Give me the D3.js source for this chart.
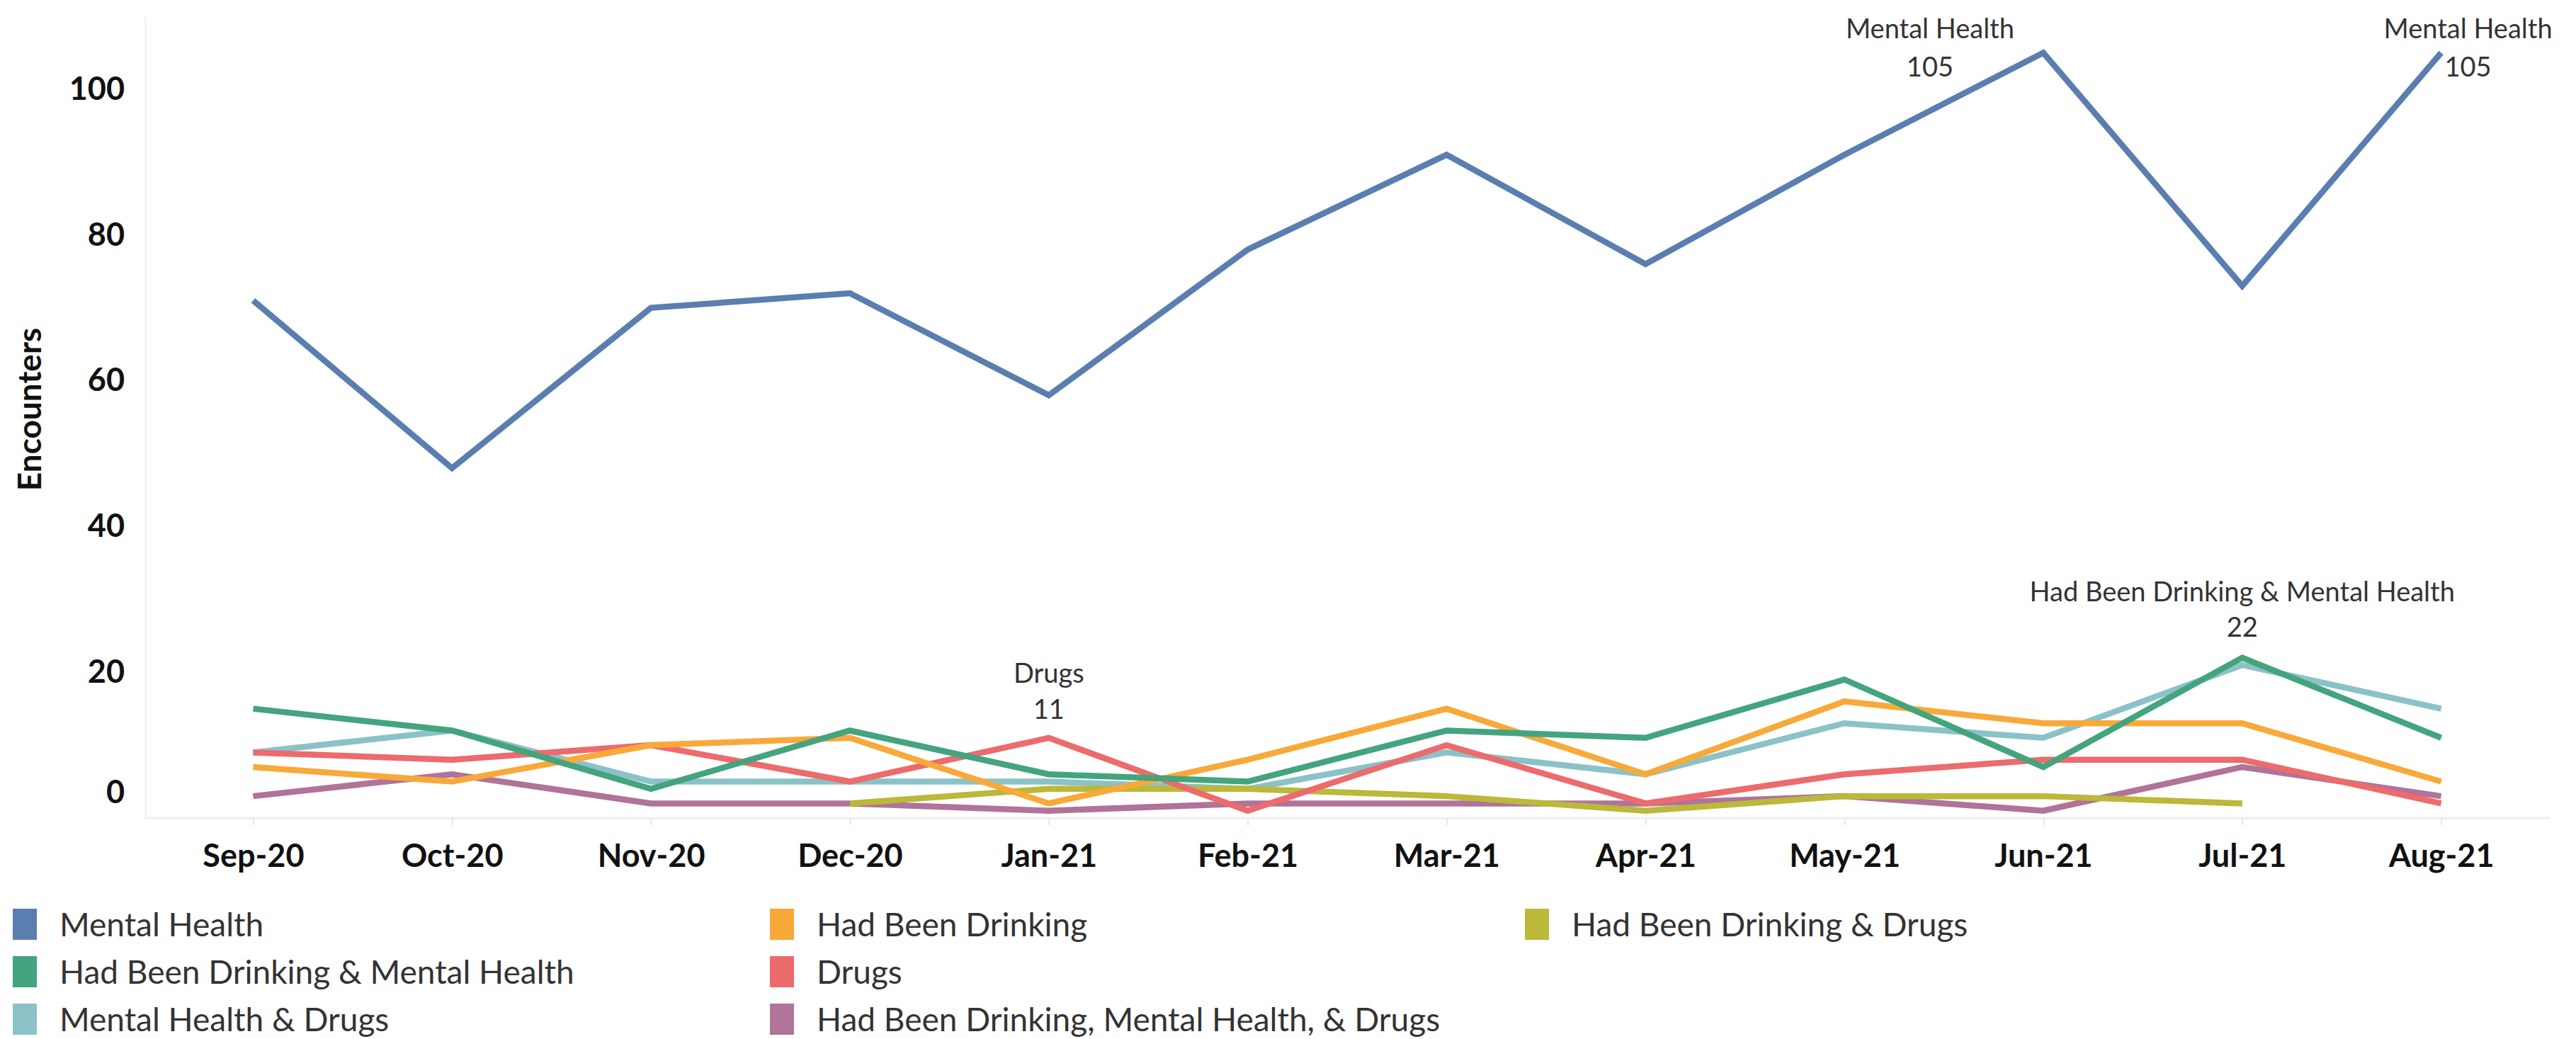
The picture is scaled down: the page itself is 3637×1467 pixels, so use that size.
<!DOCTYPE html>
<html>
<head>
<meta charset="utf-8">
<script src="https://cdn.jsdelivr.net/npm/d3@7"></script>
<style>
  body { margin: 0; background: #ffffff; }
  svg { display: block; font-family: Lato, "Open Sans", sans-serif; }
</style>
</head>
<body>
<div id="chart"></div>
<script>
// ---- data ----
var months = ["Sep-20", "Oct-20", "Nov-20", "Dec-20", "Jan-21", "Feb-21",
              "Mar-21", "Apr-21", "May-21", "Jun-21", "Jul-21", "Aug-21"];

var mentalHealth              = [71, 48, 70, 72, 58, 78, 91, 76, 91, 105, 73, 105];
var hadBeenDrinking           = [7, 5, 10, 11, 2, 8, 15, 6, 16, 13, 13, 5];
var drinkingAndDrugs          = [null, null, null, 2, 4, 4, 3, 1, 3, 3, 2, null];
var drinkingAndMentalHealth   = [15, 12, 4, 12, 6, 5, 12, 11, 19, 7, 22, 11];
var drugs                     = [9, 8, 10, 5, 11, 1, 10, 2, 6, 8, 8, 2];
var mentalHealthAndDrugs      = [9, 12, 5, 5, 5, 4, 9, 6, 13, 11, 21, 15];
var drinkingMentalHealthDrugs = [3, 6, 2, 2, 1, 2, 2, 2, 3, 1, 7, 3];

var yTicks = [0, 20, 40, 60, 80, 100];

// legend order (filled column by column, 3 rows)
var seriesNames = ["Mental Health", "Had Been Drinking & Mental Health", "Mental Health & Drugs",
                   "Had Been Drinking", "Drugs", "Had Been Drinking, Mental Health, & Drugs",
                   "Had Been Drinking & Drugs"];
var seriesValues = [mentalHealth, drinkingAndMentalHealth, mentalHealthAndDrugs,
                    hadBeenDrinking, drugs, drinkingMentalHealthDrugs, drinkingAndDrugs];

var lineColors = {
  "Mental Health": "#5a7eb0",
  "Had Been Drinking": "#f8a93a",
  "Had Been Drinking & Drugs": "#bbb83a",
  "Had Been Drinking & Mental Health": "#44a47d",
  "Drugs": "#ec6b6c",
  "Mental Health & Drugs": "#8bc2c8",
  "Had Been Drinking, Mental Health, & Drugs": "#b07399"
};

// bottom to top
var drawOrder = ["Had Been Drinking, Mental Health, & Drugs", "Mental Health & Drugs",
                 "Had Been Drinking & Drugs", "Drugs", "Had Been Drinking",
                 "Had Been Drinking & Mental Health", "Mental Health"];

var width = 3637;
var height = 1467;
var plot = { left: 205, right: 3600, top: 23, bottom: 1155 };

////////////////////////////////////////////////////////////////////////////////
/*                        HELPER FUNCTIONS                   */
////////////////////////////////////////////////////////////////////////////////

function seriesIndex(name) {
  return seriesNames.indexOf(name);
}

// two line mark label (series name + value) like the tableau annotations
function annotate(g, x, y, name, monthIdx, dx, nameDy, valueDy) {
  var v = seriesValues[seriesIndex(name)][monthIdx];
  var cx = x(months[monthIdx]) + dx;
  var cy = y(v);
  g.append("text")
    .attr("x", cx).attr("y", cy + nameDy)
    .attr("text-anchor", "middle")
    .attr("font-size", 38)
    .attr("fill", "#333")
    .text(name);
  g.append("text")
    .attr("x", cx).attr("y", cy + valueDy)
    .attr("text-anchor", "middle")
    .attr("font-size", 38)
    .attr("fill", "#333")
    .text(v);
}

function drawLegend(svg) {
  var colX = [18, 1087, 2153];
  var rowY = [1305, 1372, 1439];

  var items = svg.append("g").attr("class", "legend")
    .selectAll("g")
    .data(seriesNames)
    .enter()
    .append("g")
    .attr("transform", function (d, i) {
      return "translate(" + colX[Math.floor(i / 3)] + "," + rowY[i % 3] + ")";
    });

  items.append("rect")
    .attr("x", 0).attr("y", -22)
    .attr("width", 34).attr("height", 44)
    .attr("fill", function (d) { return lineColors[d]; });

  items.append("text")
    .attr("x", 66).attr("y", 0)
    .attr("dy", "0.36em")
    .attr("font-size", 46)
    .attr("fill", "#333")
    .text(function (d) { return d; });
}

/* MAIN */
function start() {
  var svg = d3.select("#chart")
    .append("svg")
    .attr("width", width)
    .attr("height", height);

  var x = d3.scalePoint()
    .domain(months)
    .range([217, 3587])
    .padding(0.5);

  var y = d3.scaleLinear()
    .domain([0, 110])
    .range([plot.bottom, plot.top]);

  // y axis
  var yAxisG = svg.append("g")
    .attr("transform", "translate(" + plot.left + ",0)")
    .call(d3.axisLeft(y).tickValues(yTicks).tickSize(0).tickSizeOuter(0).tickPadding(29));
  yAxisG.select(".domain").attr("stroke", "#efefef").attr("stroke-width", 2);
  yAxisG.selectAll(".tick text")
    .attr("font-family", "Lato")
    .attr("font-weight", "bold")
    .attr("font-size", 45)
    .attr("fill", "#111");
  // tableau keeps the bottom label inside the pane
  yAxisG.selectAll(".tick")
    .filter(function (d) { return d === 0; })
    .select("text")
    .attr("y", -36);

  // x axis
  var xAxisG = svg.append("g")
    .attr("transform", "translate(0," + plot.bottom + ")")
    .call(d3.axisBottom(x).tickSize(10).tickSizeOuter(0));
  xAxisG.select(".domain").remove();
  xAxisG.insert("line", ":first-child")
    .attr("x1", plot.left).attr("x2", plot.right)
    .attr("y1", 0).attr("y2", 0)
    .attr("stroke", "#eeeeee").attr("stroke-width", 3);
  xAxisG.selectAll(".tick line").attr("stroke", "#e6e6e6").attr("stroke-width", 2);
  xAxisG.selectAll(".tick text")
    .attr("y", 69)
    .attr("dy", 0)
    .attr("font-family", "Lato")
    .attr("font-weight", "bold")
    .attr("font-size", 45)
    .attr("fill", "#111");

  // axis title
  svg.append("text")
    .attr("transform", "translate(58,578) rotate(-90)")
    .attr("text-anchor", "middle")
    .attr("font-weight", "bold")
    .attr("font-size", 46)
    .attr("fill", "#111")
    .text("Encounters");

  // lines
  var line = d3.line()
    .defined(function (d) { return d != null; })
    .x(function (d, i) { return x(months[i]); })
    .y(function (d) { return y(d); });

  svg.append("g").attr("class", "lines")
    .selectAll("path")
    .data(drawOrder)
    .enter()
    .append("path")
    .attr("fill", "none")
    .attr("stroke", function (d) { return lineColors[d]; })
    .attr("stroke-width", 8.5)
    .attr("stroke-linejoin", "miter")
    .attr("d", function (d) { return line(seriesValues[seriesIndex(d)]); });

  // mark labels
  var ann = svg.append("g").attr("class", "annotations");
  annotate(ann, x, y, "Mental Health", 9, -160, -20, 34);
  annotate(ann, x, y, "Mental Health", 11, 38, -20, 34);
  annotate(ann, x, y, "Drugs", 4, 0, -78, -27);
  annotate(ann, x, y, "Had Been Drinking & Mental Health", 10, 0, -80, -30);

  drawLegend(svg);
}

start();
</script>
</body>
</html>
